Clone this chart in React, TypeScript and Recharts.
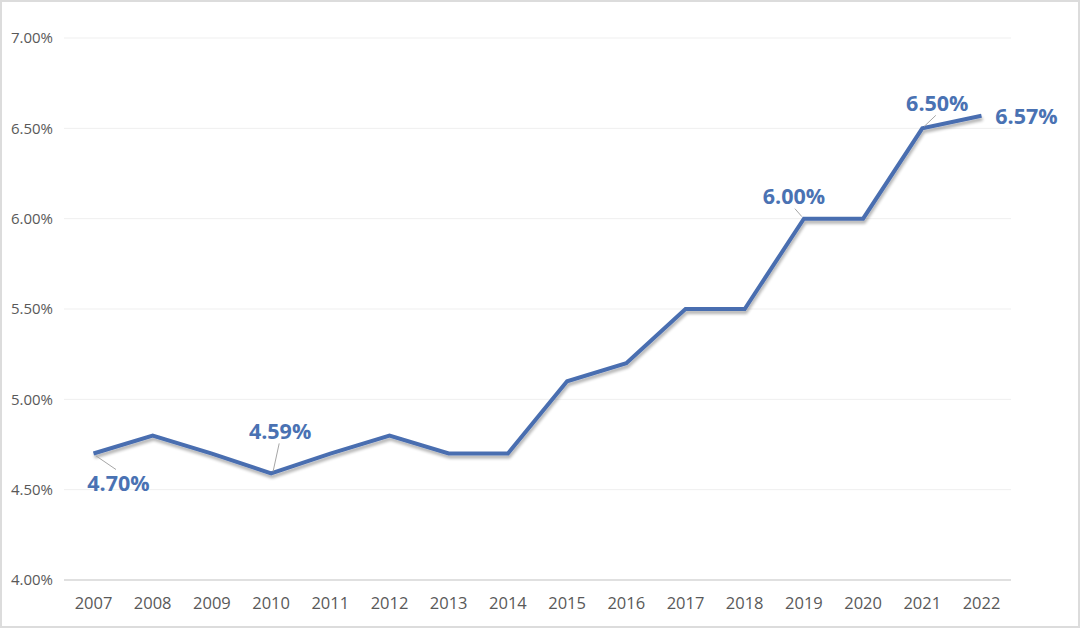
import React from "react";
import { LineChart, Line, XAxis, YAxis, CartesianGrid, LabelList } from "recharts";

const years = ["2007","2008","2009","2010","2011","2012","2013","2014","2015","2016","2017","2018","2019","2020","2021","2022"];
const rates = [4.70, 4.80, 4.70, 4.59, 4.70, 4.80, 4.70, 4.70, 5.10, 5.20, 5.50, 5.50, 6.00, 6.00, 6.50, 6.57];
const yTicks = [4.0, 4.5, 5.0, 5.5, 6.0, 6.5, 7.0];
const labeledIdx = [0, 3, 12, 14, 15];

// label styling: offset of label center from point, and leader line
const labelStyle: Record<number, { dx: number; dy: number; leader: boolean }> = {
  0: { dx: 25, dy: 29, leader: true },
  3: { dx: 9, dy: -43, leader: true },
  12: { dx: -10, dy: -23, leader: true },
  14: { dx: 15, dy: -26, leader: true },
  15: { dx: 45, dy: 0, leader: false },
};

const data = years.map((y, i) => ({ year: y, rate: rates[i] }));

const LABEL_COLOR = "#4a72b3";
const LINE_COLOR = "#4a6eb0";

const renderLabel = (props: any) => {
  const { x, y, index, value } = props;
  if (!labeledIdx.includes(index)) return null;
  const s = labelStyle[index];
  const lx = x + s.dx;
  const ly = y + s.dy;
  let leader = null;
  if (s.leader) {
    const ex = lx - s.dx * 0.1;
    const ey = ly - Math.sign(s.dy) * 13;
    leader = <line x1={x + Math.sign(s.dx) * 2} y1={y + Math.sign(s.dy) * 2} x2={ex} y2={ey} stroke="#a6a6a6" strokeWidth={1} />;
  }
  return (
    <g key={`lbl-${index}`}>
      {leader}
      <text x={lx} y={ly} textAnchor="middle" dominantBaseline="central" fill={LABEL_COLOR}
        style={{ fontFamily: "'Open Sans', sans-serif", fontSize: 21.5, fontWeight: 700 }}>
        {Number(value).toFixed(2)}%
      </text>
    </g>
  );
};

export default function App() {
  return (
    <div style={{ position: "absolute", left: 0, top: 0, width: 1080, height: 628, boxSizing: "border-box", border: "2px solid #dcdcdc", background: "#fff" }}>
      <div style={{ position: "absolute", left: -2, top: -2 }}>
        <LineChart width={1080} height={628} data={data} margin={{ top: 38, right: 69, bottom: 18, left: 0 }}>
          <defs>
            <filter id="lineShadow" x="-5%" y="-5%" width="110%" height="120%">
              <feGaussianBlur in="SourceAlpha" stdDeviation="1.5" />
              <feOffset dx="1" dy="3" result="ob" />
              <feComponentTransfer><feFuncA type="linear" slope="0.3" /></feComponentTransfer>
              <feMerge>
                <feMergeNode />
                <feMergeNode in="SourceGraphic" />
              </feMerge>
            </filter>
          </defs>
          <CartesianGrid vertical={false} stroke="#efefef" strokeWidth={1} />
          <XAxis dataKey="year" height={30} padding={{ left: 29.5, right: 29.5 }} tickLine={false}
            axisLine={{ stroke: "#d9d9d9", strokeWidth: 1.5 }} tickMargin={11}
            tick={{ fill: "#595959", fontSize: 16.5, fontFamily: "'Open Sans', sans-serif" }} interval={0} />
          <YAxis domain={[4, 7]} ticks={yTicks} width={64} axisLine={false} tickLine={false} tickMargin={5}
            tickFormatter={(v: number) => v.toFixed(2) + "%"}
            tick={{ fill: "#595959", fontSize: 15, fontFamily: "'Open Sans', sans-serif" }} />
          <Line type="linear" dataKey="rate" stroke={LINE_COLOR} strokeWidth={4} dot={false}
            isAnimationActive={false} filter="url(#lineShadow)" strokeLinejoin="miter">
            <LabelList dataKey="rate" content={renderLabel} />
          </Line>
        </LineChart>
      </div>
    </div>
  );
}
